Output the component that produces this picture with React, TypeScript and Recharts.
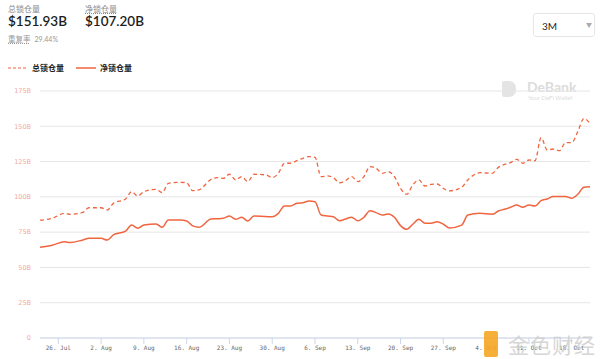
import React from "react";
import { LineChart, Line, XAxis, YAxis, CartesianGrid } from "recharts";

// days counted from 26 Jul (the first labelled tick)
const days = [
    -3, -1, 1, 2, 4, 5, 7, 8, 9, 11, 12, 13, 14, 16, 17, 18, 20, 21, 22, 23,
    25, 26, 27, 28, 29, 30, 31, 32, 34, 35, 36, 37, 38, 39, 40, 41, 42, 43, 44, 45,
    46, 47, 48, 49, 50, 51, 52, 53, 54, 55, 56, 57, 58, 59, 60, 61, 62, 63, 64, 66,
    67, 69, 71, 72, 73, 74, 75, 76, 77, 78, 79, 80, 81, 82, 83, 84, 85, 86, 87,
];

const totalLocked = [
    83.5, 84.8, 88.3, 87.6, 89, 92.3, 92.3, 90.7, 95.4, 98.5, 103.7, 100.6, 103.7, 105.3, 103, 109.6, 110.3, 110, 104.4, 104.9,
    112.4, 113.6, 113.1, 116, 112, 114.3, 110.8, 116, 115.5, 113.6, 116.7, 123.8, 123.8, 125.6, 127.3, 128.5, 128, 114.3, 114.8, 113.6,
    110, 111.5, 114.3, 110.8, 114.3, 121.4, 120.2, 116.7, 117.8, 114.3, 106, 101.8, 108.4, 112, 107.7, 108.9, 109.1, 106, 104.3, 106.8,
    112, 117.1, 116.7, 120.9, 123, 124.2, 126.6, 123.8, 126.1, 125.6, 141.9, 133.2, 133.9, 132.7, 138.4, 138.4, 146.2, 155.5, 151.93,
];

const netLocked = [
    64.3, 65.7, 68.2, 67.6, 69.5, 70.6, 70.6, 69.4, 73, 75.8, 80, 77.7, 80, 80.8, 78.4, 83.6, 83.6, 82.9, 79.4, 78.4,
    84.3, 84.5, 84.8, 86.4, 84.1, 85.5, 82.9, 86.4, 86, 85.9, 88.3, 93.5, 93.5, 95.4, 95.9, 97, 96.6, 87.1, 86.4, 85.9,
    83.1, 84.3, 85.5, 83.1, 85.5, 90.2, 88.8, 87.1, 87.9, 85.5, 79.6, 77, 80.6, 84.1, 81.3, 81.3, 82.4, 80.6, 78, 80,
    87.1, 88.3, 87.6, 90, 91.2, 92.6, 94.2, 92.6, 94.2, 93.5, 97.3, 98.5, 100.2, 100.2, 100.2, 99, 101.8, 106.8, 107.2,
];

const xTicks = [0, 7, 14, 21, 28, 35, 42, 49, 56, 63, 70, 77, 84];
const xTickLabels = [
    "26. Jul", "2. Aug", "9. Aug", "16. Aug", "23. Aug", "30. Aug", "6. Sep",
    "13. Sep", "20. Sep", "27. Sep", "4. Oct", "11. Oct", "18. Oct",
];
const yTicks = [0, 25, 50, 75, 100, 125, 150, 175];

const LINE_COLOR = "#f0653f";

export default function App() {
    const data = days.map((d, i) => ({ day: d, total: totalLocked[i], net: netLocked[i] }));
    const sans = "Lato, 'Noto Sans CJK SC', sans-serif";
    const abs = (left, top, extra = {}) => ({ position: "absolute", left, top, lineHeight: 1, whiteSpace: "nowrap", ...extra }) as React.CSSProperties;

    return (
        <div style={{ position: "absolute", left: 0, top: 0, width: 600, height: 359, background: "#fff", fontFamily: sans, overflow: "hidden" }}>
            {/* header numbers */}
            <div style={abs(8, 5, { fontSize: 8, color: "#888" })}>总锁仓量</div>
            <div style={abs(8, 15, { fontSize: 13.5, fontWeight: 600, color: "#1d1d1d" })}>$151.93B</div>
            <div style={abs(85, 5, { fontSize: 8, color: "#888", textDecoration: "underline dotted" })}>净锁仓量</div>
            <div style={abs(85, 15, { fontSize: 13.5, fontWeight: 600, color: "#1d1d1d" })}>$107.20B</div>
            <div style={abs(8, 36, { fontSize: 7.5, color: "#999" })}>
                <span style={{ textDecoration: "underline dotted" }}>重复率</span>
                <span style={{ marginLeft: 4, fontSize: 7 }}>29.44%</span>
            </div>

            {/* period selector */}
            <div style={{ position: "absolute", left: 533, top: 13, width: 62, height: 24, border: "1px solid #e6e6e6", borderRadius: 3, boxSizing: "border-box" }}>
                <span style={abs(8, 7, { fontSize: 10, color: "#222" })}>3M</span>
                <span style={abs(52, 8, { fontSize: 6, color: "#aaa" })}>▼</span>
            </div>

            {/* legend */}
            <svg style={{ position: "absolute", left: 0, top: 62 }} width={140} height={12}>
                <line x1={8} x2={28} y1={6} y2={6} stroke={LINE_COLOR} strokeWidth={1.2} strokeDasharray="3 2" />
                <line x1={76} x2={96} y1={6} y2={6} stroke={LINE_COLOR} strokeWidth={1.5} />
            </svg>
            <div style={abs(32, 64, { fontSize: 8, fontWeight: 700, color: "#222" })}>总锁仓量</div>
            <div style={abs(100, 64, { fontSize: 8, fontWeight: 700, color: "#222" })}>净锁仓量</div>

            {/* DeBank watermark */}
            <div style={{ position: "absolute", left: 502, top: 81, width: 14, height: 16, background: "#e4e4e4", borderRadius: "2px 7px 7px 2px" }} />
            <div style={abs(527, 80, { fontSize: 14, fontWeight: 700, color: "#dcdcdc" })}>DeBank</div>
            <div style={abs(528, 95, { fontSize: 6, color: "#dcdcdc" })}>Your DeFi Wallet</div>

            <div style={{ position: "absolute", left: 0, top: 0 }}>
                <LineChart width={600} height={359} data={data} margin={{ top: 91, right: 10, bottom: 0, left: 0 }}>
                    <CartesianGrid vertical={false} stroke="#e6e6e6" />
                    <XAxis
                        dataKey="day"
                        type="number"
                        domain={[-3, 87]}
                        ticks={xTicks}
                        tickFormatter={(v) => xTickLabels[xTicks.indexOf(v)]}
                        stroke="#ccd6eb"
                        tickSize={6}
                        tickMargin={2}
                        height={21}
                        tick={{ fill: "#666", fontSize: 6, fontFamily: "'DejaVu Sans Mono', monospace" }}
                    />
                    <YAxis
                        domain={[0, 175]}
                        ticks={yTicks}
                        tickFormatter={(v) => (v === 0 ? "0" : v + "B")}
                        width={40}
                        axisLine={false}
                        tickLine={false}
                        tickSize={0}
                        tickMargin={9}
                        tick={{ fill: "#f4a7a0", fontSize: 6.5, fontFamily: "'DejaVu Sans', sans-serif" }}
                    />
                    <Line type="monotone" dataKey="total" stroke={LINE_COLOR} strokeWidth={1.3} strokeDasharray="4 3" dot={false} isAnimationActive={false} />
                    <Line type="monotone" dataKey="net" stroke={LINE_COLOR} strokeWidth={1.5} dot={false} isAnimationActive={false} />
                </LineChart>
            </div>

            {/* 金色财经 watermark, drawn over the axis labels as in the source */}
            <div style={{ position: "absolute", left: 484, top: 331, width: 14, height: 26, background: "#f5a623", borderRadius: 2, opacity: 0.9 }} />
            <div style={abs(508, 334, { fontSize: 21, color: "#cfcfcf", opacity: 0.85, fontFamily: "'Noto Sans CJK SC', sans-serif", letterSpacing: 1 })}>金色财经</div>
        </div>
    );
}
